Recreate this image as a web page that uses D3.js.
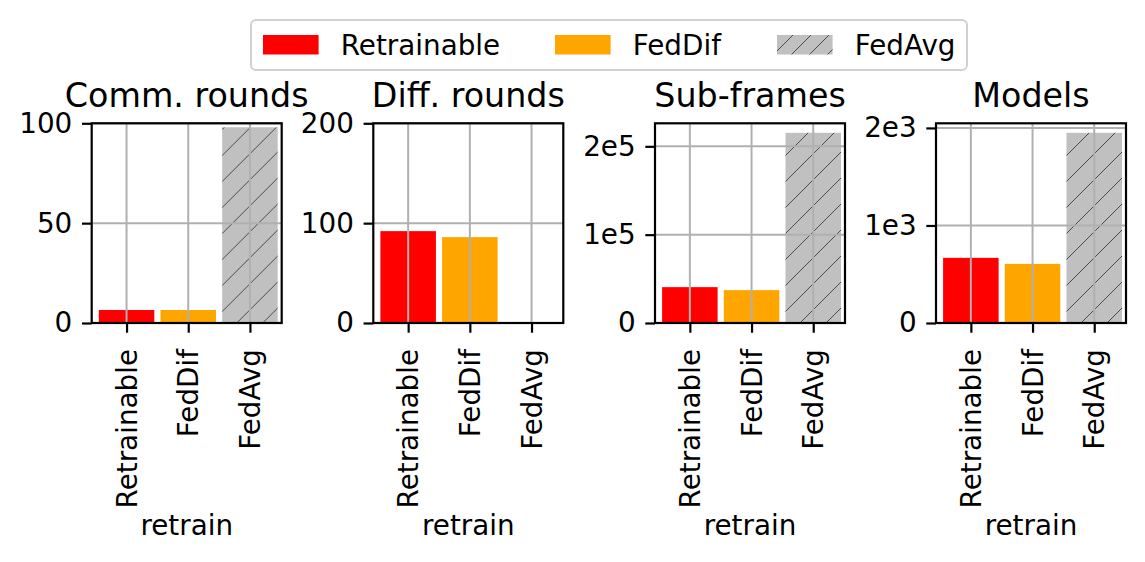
<!DOCTYPE html>
<html>
<head>
<meta charset="utf-8">
<script src="https://cdn.jsdelivr.net/npm/d3@7"></script>
<style>
  body { margin: 0; background: #fff; }
  svg text { font-family: "DejaVu Sans", sans-serif; fill: #000; }
</style>
</head>
<body>
<svg id="chart" width="1145" height="562"></svg>
<script>
// data
var methods = ["Retrainable", "FedDif", "FedAvg"];
var titles = ["Comm. rounds", "Diff. rounds", "Sub-frames", "Models"];
var commRounds = [6.5, 6.5, 98];
var diffRounds = [92, 86, 0];
var subFrames = [40600, 37200, 215300];
var models = [668, 606, 1950];
var yTicks = [[0, 50, 100], [0, 100, 200], [0, 1e5, 2e5], [0, 1e3, 2e3]];
var yTickLabels = [["0", "50", "100"], ["0", "100", "200"], ["0", "1e5", "2e5"], ["0", "1e3", "2e3"]];
var yLimits = [100, 200, null, null];   // null = matplotlib style auto (max * 1.05)
var xLabel = "retrain";

var series = [commRounds, diffRounds, subFrames, models];
var colors = {"Retrainable": "#ff0000", "FedDif": "#ffa500", "FedAvg": "url(#hatch)"};
var legendColors = {"Retrainable": "#ff0000", "FedDif": "#ffa500", "FedAvg": "url(#hatchSmall)"};

var svg = d3.select("#chart");
var defs = svg.append("defs");

// hatch for FedAvg
function makeHatch(id, s) {
  var pat = defs.append("pattern")
    .attr("id", id)
    .attr("patternUnits", "userSpaceOnUse")
    .attr("width", s).attr("height", s);
  pat.append("rect").attr("width", s).attr("height", s).attr("fill", "#c0c0c0");
  pat.append("path")
    .attr("d", `M0,${s} L${s},0 M-5,5 L5,-5 M${s - 5},${s + 5} L${s + 5},${s - 5}`)
    .attr("stroke", "#4a4a4a").attr("stroke-width", 1);
}
makeHatch("hatch", 26);
makeHatch("hatchSmall", 18);

var lefts = [91.7, 373.3, 655, 936];
var pw = 190, plotTop = 123.3, plotBottom = 323;
var tickLen = 9.7, tickPad = 9.7;

series.forEach(function(vals, p) {
  var g = svg.append("g").attr("transform", `translate(${lefts[p]}, 0)`);

  var x = d3.scaleLinear().domain([-0.565, 2.515]).range([0, pw]);
  var bw = 0.9 * (x(1) - x(0));
  var ymax = yLimits[p] != null ? yLimits[p] : d3.max(vals) * 1.05;
  var y = d3.scaleLinear().domain([0, ymax]).range([plotBottom, plotTop]);

  // bars
  g.selectAll("rect.bar")
    .data(methods)
    .enter().append("rect")
    .attr("class", "bar")
    .attr("x", (d, i) => x(i) - bw / 2)
    .attr("width", bw)
    .attr("y", (d, i) => y(vals[i]))
    .attr("height", (d, i) => y(0) - y(vals[i]))
    .attr("fill", d => colors[d]);

  // grid (over the bars, like matplotlib)
  g.selectAll("line.vg").data([0, 1, 2]).enter().append("line")
    .attr("x1", d => x(d)).attr("x2", d => x(d))
    .attr("y1", plotTop).attr("y2", plotBottom)
    .attr("stroke", "#b0b0b0").attr("stroke-width", 2);
  g.selectAll("line.hg").data(yTicks[p]).enter().append("line")
    .attr("x1", 0).attr("x2", pw)
    .attr("y1", d => y(d)).attr("y2", d => y(d))
    .attr("stroke", "#b0b0b0").attr("stroke-width", 2);

  // y axis
  var yAxis = g.append("g")
    .call(d3.axisLeft(y).tickValues(yTicks[p])
      .tickFormat((d, i) => yTickLabels[p][i])
      .tickSize(tickLen).tickPadding(tickPad));
  yAxis.select(".domain").remove();
  yAxis.selectAll("line").attr("stroke", "#000").attr("stroke-width", 2.2);
  yAxis.selectAll("text").style("font-size", "27.8px").attr("fill", "#000");

  // x axis
  var xAxis = g.append("g").attr("transform", `translate(0, ${plotBottom})`)
    .call(d3.axisBottom(x).tickValues([0, 1, 2])
      .tickFormat((d) => methods[d])
      .tickSize(tickLen));
  xAxis.select(".domain").remove();
  xAxis.selectAll("line").attr("stroke", "#000").attr("stroke-width", 2.2);
  xAxis.selectAll("text")
    .style("font-size", "27.8px").attr("fill", "#000")
    .attr("x", 0).attr("y", 0).attr("dy", "0.35em")
    .attr("text-anchor", "end")
    .attr("transform", "translate(0, 26) rotate(-90)");

  // spines
  g.append("rect")
    .attr("x", 0).attr("y", plotTop).attr("width", pw).attr("height", plotBottom - plotTop)
    .attr("fill", "none").attr("stroke", "#000").attr("stroke-width", 2.2);

  // title and x label
  g.append("text").attr("x", pw / 2).attr("y", 106.5)
    .attr("text-anchor", "middle").style("font-size", "33.3px")
    .text(titles[p]);
  g.append("text").attr("x", pw / 2).attr("y", 535)
    .attr("text-anchor", "middle").style("font-size", "27.8px")
    .text(xLabel);
});

// legend
var leg = svg.append("g");
leg.append("rect")
  .attr("x", 251).attr("y", 20).attr("width", 716).attr("height", 50)
  .attr("rx", 5).attr("fill", "#fff")
  .attr("stroke", "#d0d0d0").attr("stroke-width", 2);
var legX = [263, 555, 777];
methods.forEach(function(m, i) {
  leg.append("rect")
    .attr("x", legX[i]).attr("y", 35).attr("width", 55.6).attr("height", 19.5)
    .attr("fill", legendColors[m]);
  leg.append("text")
    .attr("x", legX[i] + 55.6 + 22.2).attr("y", 55)
    .style("font-size", "27.8px")
    .text(m);
});
</script>
</body>
</html>
